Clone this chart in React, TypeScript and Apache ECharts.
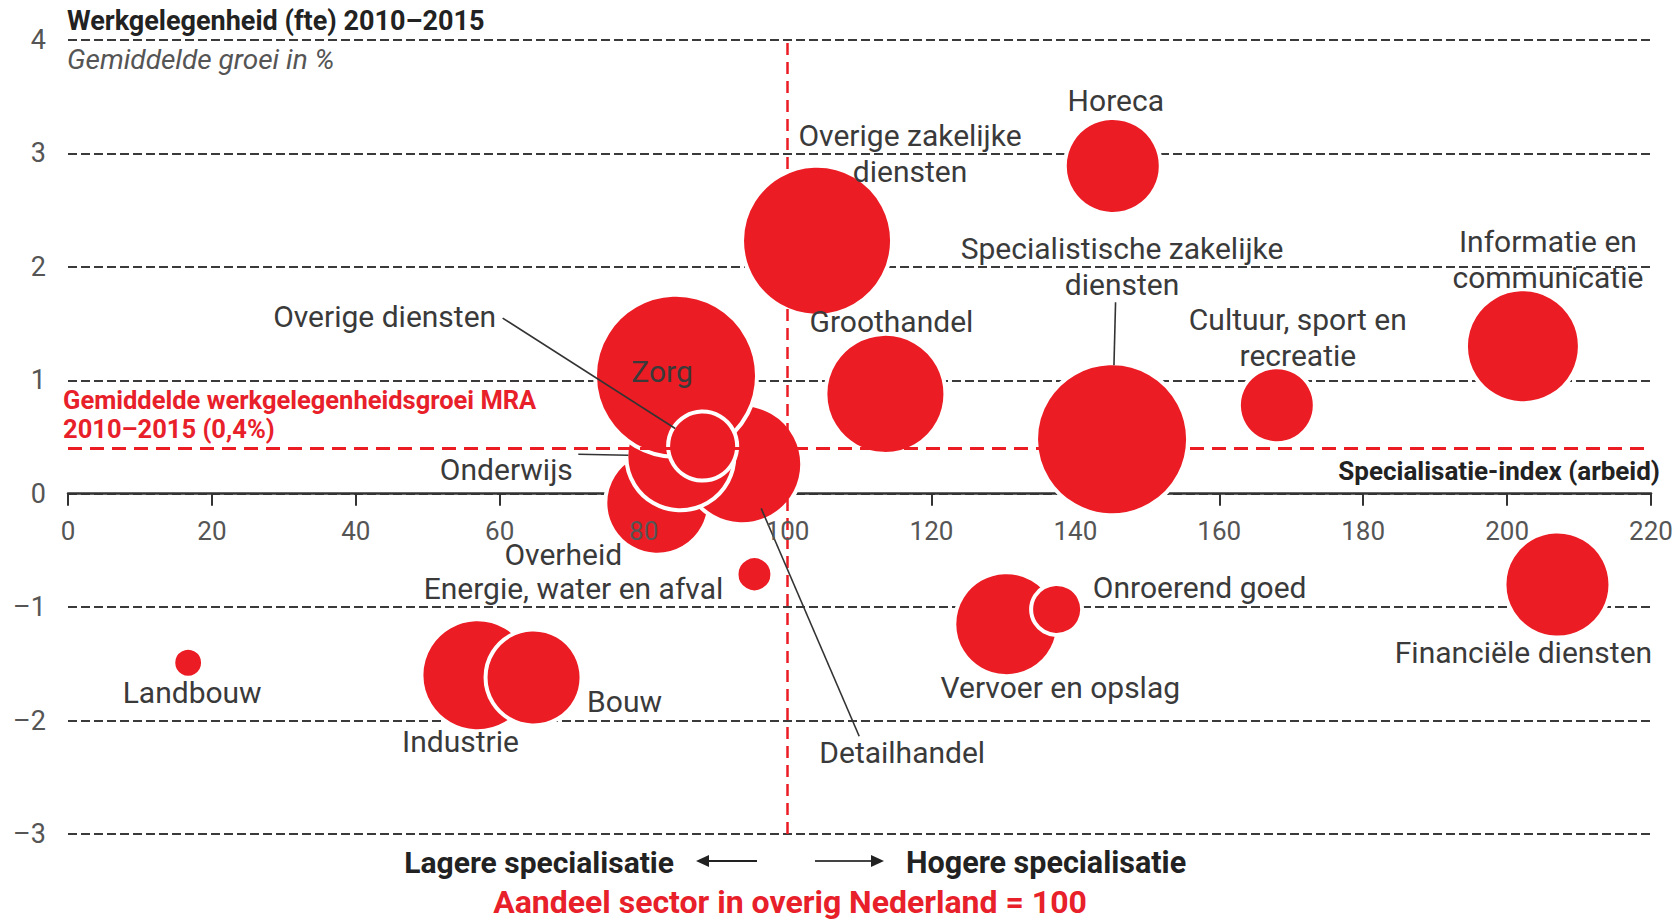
import React, { useEffect, useRef } from "react";
import * as echarts from "echarts";

// ---- Data ----
const sectors = [
  "Landbouw",
  "Industrie",
  "Bouw",
  "Energie, water en afval",
  "Overheid",
  "Detailhandel",
  "Onderwijs",
  "Zorg",
  "Overige diensten",
  "Overige zakelijke diensten",
  "Groothandel",
  "Horeca",
  "Specialistische zakelijke diensten",
  "Cultuur, sport en recreatie",
  "Informatie en communicatie",
  "Vervoer en opslag",
  "Onroerend goed",
  "Financiële diensten",
];
// Specialisatie-index (arbeid), overig Nederland = 100
const specialisatieIndex = [16.7, 56.9, 64.7, 95.4, 81.9, 93.7, 85.1, 84.5, 88.2, 104.1, 113.6, 145.2, 145.1, 168.0, 202.2, 130.4, 137.4, 207.0];
// Gemiddelde groei werkgelegenheid 2010–2015 in %
const groei = [-1.49, -1.6, -1.62, -0.71, -0.08, 0.26, 0.33, 1.04, 0.42, 2.23, 0.88, 2.89, 0.48, 0.78, 1.3, -1.15, -1.02, -0.8];
// Relative employment volume (bubble area)
const omvang = [3.4, 59.5, 43.2, 5.2, 51, 68.7, 55.2, 127.4, 21.6, 108.8, 68.7, 43.2, 111.8, 26.4, 61.7, 51, 11.3, 53.1];

const xTicks = { min: 0, max: 220, interval: 20 };
const yTicks = { min: -3, max: 4, interval: 1 };
const mraGemiddelde = 0.4;
const referentieIndex = 100;

// ---- Layout / styling ----
const GRID = { left: 68, right: 26, top: 40, bottom: 87 };
const CHART_H = 921;
const labelText: Record<string, string> = {
  "Overige zakelijke diensten": "Overige zakelijke\ndiensten",
  "Specialistische zakelijke diensten": "Specialistische zakelijke\ndiensten",
  "Cultuur, sport en recreatie": "Cultuur, sport en\nrecreatie",
  "Informatie en communicatie": "Informatie en\ncommunicatie",
};
const labelOffset: Record<string, [number, number]> = {
  Landbouw: [4, 30],
  Industrie: [-17, 66],
  Bouw: [91, 24],
  "Energie, water en afval": [-181, 14],
  Overheid: [-94, 52],
  Detailhandel: [160, 288],
  Onderwijs: [-174, 13],
  Zorg: [-14, -4],
  "Overige diensten": [-318, -130],
  "Overige zakelijke diensten": [93, -87],
  Groothandel: [6, -72],
  Horeca: [3, -65],
  "Specialistische zakelijke diensten": [10, -173],
  "Cultuur, sport en recreatie": [21, -68],
  "Informatie en communicatie": [25, -87],
  "Vervoer en opslag": [54, 63],
  "Onroerend goed": [143, -22],
  "Financiële diensten": [-34, 68],
};
// leader lines: start point relative to bubble centre (px), and how far inside the edge they end
const guides: { name: string; anchor: [number, number]; inset: number }[] = [
  { name: "Overige diensten", anchor: [-200, -128], inset: 0 },
  { name: "Onderwijs", anchor: [-102, -2], inset: 0 },
  { name: "Specialistische zakelijke diensten", anchor: [3.5, -137], inset: 0 },
  { name: "Detailhandel", anchor: [117, 272], inset: 10 },
];

const RED = "#ec1c24";
const TEXT = "#3a3a3a";
const FONT = "Roboto, 'Noto Sans', sans-serif";
const diameter = (v: number) => 14 * Math.sqrt(v);

export default function App() {
  const ref = useRef<HTMLDivElement>(null);

  useEffect(() => {
    if (!ref.current) return;
    const chart = echarts.init(ref.current, undefined, { renderer: "svg" });

    const bubbleData = sectors.map((name, i) => ({
      name,
      value: [specialisatieIndex[i], groei[i], omvang[i]],
      label: labelText[name] ? { offset: labelOffset[name], lineHeight: 36 } : { offset: labelOffset[name] },
    }));

    const guideData = guides.map((g) => {
      const i = sectors.indexOf(g.name);
      return { name: g.name, value: [specialisatieIndex[i], groei[i], omvang[i]] };
    });

    const plotH = CHART_H - GRID.top - GRID.bottom;
    const zeroOffset = -plotH * (0 - yTicks.min) / (yTicks.max - yTicks.min);

    const gridLine = { type: [9, 4], color: "#3a3a3a", width: 2 };

    const option: any = {
      animation: false,
      backgroundColor: "#fff",
      textStyle: { fontFamily: FONT },
      grid: { ...GRID, containLabel: false },
      xAxis: [
        {
          type: "value",
          min: xTicks.min,
          max: xTicks.max,
          interval: xTicks.interval,
          z: 0,
          axisLine: { show: true, onZero: true, lineStyle: { color: "#333", width: 2.5 } },
          axisTick: { show: true, inside: false, length: 12, lineStyle: { color: "#333", width: 2 } },
          axisLabel: { show: false },
          splitLine: { show: false },
        },
        {
          type: "value",
          position: "bottom",
          offset: zeroOffset,
          min: xTicks.min,
          max: xTicks.max,
          interval: xTicks.interval,
          z: 10,
          axisLine: { show: false, onZero: false },
          axisTick: { show: false },
          axisLabel: { show: true, margin: 24, fontSize: 26, lineHeight: 26, color: "#555", fontFamily: FONT },
          splitLine: { show: false },
        },
      ],
      yAxis: [
        {
          type: "value",
          min: yTicks.min,
          max: yTicks.max,
          interval: yTicks.interval,
          axisLine: { show: false },
          axisTick: { show: false },
          axisLabel: {
            margin: 22,
            fontSize: 27,
            lineHeight: 27,
            color: "#555",
            fontFamily: FONT,
            formatter: (v: number) => (v < 0 ? "\u2013" + Math.abs(v) : String(v)),
          },
          splitLine: { show: true, lineStyle: gridLine },
        },
      ],
      series: [
        {
          type: "scatter",
          z: 1,
          data: [],
          markLine: {
            silent: true,
            symbol: "none",
            label: { show: false },
            data: [
              { xAxis: referentieIndex, lineStyle: { color: RED, type: [12, 7], width: 2.5 } },
              { yAxis: mraGemiddelde, lineStyle: { color: RED, type: [14, 8], width: 3 } },
            ],
          },
        },
        {
          type: "scatter",
          z: 3,
          data: bubbleData,
          symbolSize: (val: number[]) => diameter(val[2]) + 4,
          itemStyle: { color: RED, borderColor: "#fff", borderWidth: 4, opacity: 1 },
          emphasis: { disabled: true },
          label: {
            show: true,
            position: "inside",
            align: "center",
            verticalAlign: "middle",
            color: TEXT,
            fontSize: 30,
            lineHeight: 30,
            fontFamily: FONT,
            formatter: (p: any) => labelText[p.name] || p.name,
          },
        },
        {
          type: "custom",
          z: 5,
          silent: true,
          data: guideData,
          renderItem: (params: any, api: any) => {
            const g = guides[params.dataIndex];
            const c = api.coord([api.value(0), api.value(1)]);
            const r = diameter(api.value(2)) / 2 - g.inset;
            const len = Math.hypot(g.anchor[0], g.anchor[1]);
            return {
              type: "line",
              shape: {
                x1: c[0] + g.anchor[0],
                y1: c[1] + g.anchor[1],
                x2: c[0] + (g.anchor[0] / len) * r,
                y2: c[1] + (g.anchor[1] / len) * r,
              },
              style: { stroke: "#333", lineWidth: 1.6 },
            };
          },
        },
      ],
      graphic: [
        {
          type: "text",
          left: 67,
          top: 7,
          style: { text: "Werkgelegenheid (fte) 2010\u20132015", font: `bold 27px ${FONT}`, fill: "#222" },
        },
        {
          type: "text",
          left: 67,
          top: 45,
          style: { text: "Gemiddelde groei in %", font: `italic 28px ${FONT}`, fill: "#555" },
        },
        {
          type: "text",
          left: 63,
          top: 385,
          style: {
            text: "Gemiddelde werkgelegenheidsgroei MRA\n2010\u20132015 (0,4%)",
            font: `bold 25.5px ${FONT}`,
            lineHeight: 29.5,
            fill: "#e8202a",
          },
        },
        {
          type: "text",
          right: 17,
          top: 458,
          style: { text: "Specialisatie-index (arbeid)", font: `bold 26px ${FONT}`, fill: "#222" },
        },
        {
          type: "text",
          x: 674,
          y: 862,
          style: { text: "Lagere specialisatie", font: `bold 30px ${FONT}`, fill: "#222", align: "right", verticalAlign: "middle" },
        },
        {
          type: "text",
          x: 906,
          y: 862,
          style: { text: "Hogere specialisatie", font: `bold 30.5px ${FONT}`, fill: "#222", align: "left", verticalAlign: "middle" },
        },
        {
          type: "text",
          x: 790,
          y: 902,
          style: { text: "Aandeel sector in overig Nederland = 100", font: `bold 32px ${FONT}`, fill: "#e8202a", align: "center", verticalAlign: "middle" },
        },
        { type: "line", shape: { x1: 757, y1: 861, x2: 706, y2: 861 }, style: { stroke: "#222", lineWidth: 2 } },
        { type: "polygon", shape: { points: [[696, 861], [709, 855], [709, 867]] }, style: { fill: "#222" } },
        { type: "line", shape: { x1: 815, y1: 861, x2: 874, y2: 861 }, style: { stroke: "#444", lineWidth: 2 } },
        { type: "polygon", shape: { points: [[884, 861], [871, 855], [871, 867]] }, style: { fill: "#222" } },
      ],
    };

    chart.setOption(option);
    return () => chart.dispose();
  }, []);

  return (
    <div
      ref={ref}
      style={{ position: "fixed", left: 0, top: 0, width: "1677px", height: "921px", background: "#fff" }}
    />
  );
}
